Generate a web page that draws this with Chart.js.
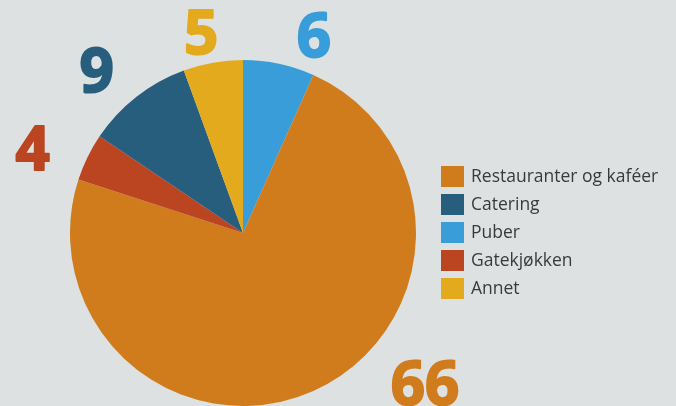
<!DOCTYPE html>
<html>
<head>
<meta charset="utf-8">
<script src="https://cdn.jsdelivr.net/npm/chart.js@4.4.1/dist/chart.umd.min.js"></script>
<style>
  html, body { margin: 0; padding: 0; background: #dde1e2; }
  #wrap { width: 676px; height: 406px; }
</style>
</head>
<body>
<div id="wrap"><canvas id="chart" width="676" height="406"></canvas></div>
<script>
// Slices in drawing order, clockwise from 12 o'clock
const categories = ['Puber', 'Restauranter og kaféer', 'Gatekjøkken', 'Catering', 'Annet'];
const values = [6, 66, 4, 9, 5];
const colors = ['#389dd9', '#d07c1d', '#bb4421', '#285e7d', '#e2aa1c'];
// Legend lists the categories in this order
const legendOrder = ['Restauranter og kaféer', 'Catering', 'Puber', 'Gatekjøkken', 'Annet'];

// Big value labels outside the pie
const outsideLabels = {
    id: 'outsideLabels',
    afterDatasetsDraw(chart, args, opts) {
        const ctx = chart.ctx;
        const meta = chart.getDatasetMeta(0);
        ctx.save();
        ctx.font = opts.font;
        ctx.textAlign = 'center';
        ctx.textBaseline = 'alphabetic';
        ctx.lineJoin = 'round';
        meta.data.forEach(function(arc, i) {
            const p = arc.getProps(['x', 'y', 'startAngle', 'endAngle', 'outerRadius'], true);
            const mid = (p.startAngle + p.endAngle) / 2 + opts.angleShift[i] * Math.PI / 180;
            const r = p.outerRadius + opts.gap[i];
            const x = p.x + Math.cos(mid) * r;
            const y = p.y + Math.sin(mid) * r;
            const txt = String(chart.data.datasets[0].data[i]);
            ctx.fillStyle = colors[i];
            ctx.strokeStyle = colors[i];
            ctx.lineWidth = opts.weight;
            ctx.strokeText(txt, x, y + opts.capHalf);
            ctx.fillText(txt, x, y + opts.capHalf);
        });
        ctx.restore();
    }
};

// Legend with square swatches on the right
const sideLegend = {
    id: 'sideLegend',
    afterDraw(chart, args, opts) {
        const ctx = chart.ctx;
        ctx.save();
        ctx.font = opts.font;
        ctx.textBaseline = 'middle';
        ctx.textAlign = 'left';
        legendOrder.forEach(function(name, k) {
            const i = chart.data.labels.indexOf(name);
            const top = opts.top + k * opts.rowHeight;
            ctx.fillStyle = colors[i];
            ctx.fillRect(opts.left, top, opts.boxW, opts.boxH);
            ctx.fillStyle = opts.color;
            ctx.fillText(name, opts.left + opts.textGap, top + opts.boxH / 2 + 1);
        });
        ctx.restore();
    }
};

new Chart(document.getElementById('chart'), {
    type: 'pie',
    data: {
        labels: categories,
        datasets: [{
            data: values,
            backgroundColor: colors,
            borderWidth: 0,
            hoverOffset: 0
        }]
    },
    options: {
        responsive: false,
        animation: false,
        layout: { padding: { top: 60, bottom: 0, left: 70, right: 260 } },
        plugins: {
            legend: { display: false },
            tooltip: { enabled: false },
            outsideLabels: {
                font: 'normal bold 60px "Open Sans"',
                weight: 2,
                capHalf: 22,
                angleShift: [7.7, -26.5, -4, -3.9, -1.8],
                gap: [37, 63, 54, 46, 32]
            },
            sideLegend: {
                font: '17.5px "Open Sans"',
                color: '#3a3a3a',
                left: 441,
                top: 166,
                rowHeight: 28,
                boxW: 23,
                boxH: 21,
                textGap: 30
            }
        }
    },
    plugins: [outsideLabels, sideLegend]
});
</script>
</body>
</html>
